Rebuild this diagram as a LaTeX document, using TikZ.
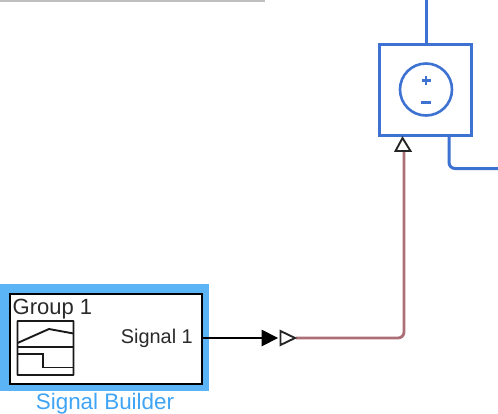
\documentclass[tikz,border=0pt]{standalone}
\usepackage{fontspec}
\setmainfont{Liberation Sans}
\definecolor{simblue}{HTML}{3D72D2}
\definecolor{hilite}{HTML}{5AB4F5}
\definecolor{sellabel}{HTML}{3FA4F4}
\definecolor{wine}{HTML}{AD6F76}
\definecolor{txt}{HTML}{2A2A2A}
\tikzset{
  bluewire/.style={draw=simblue,line width=3pt,rounded corners=6pt},
  blackwire/.style={draw=black,line width=1.6pt},
  winewire/.style={draw=wine,line width=2.8pt,rounded corners=6pt},
  lab/.style={text=txt,inner sep=0pt},
  iconline/.style={draw=black!90,line width=1.9pt},
  porttri/.style={draw=black!85,line width=1.9pt,fill=white,line join=miter},
}
\begin{document}
\begin{tikzpicture}[x=1pt,y=-1pt]
\useasboundingbox (0,0) rectangle (498,413);
\fill[black!25] (0,0) rectangle (265,2);
% Signal Builder block
\node[fill=hilite,minimum width=209pt,minimum height=107pt,inner sep=0pt,outer sep=0pt,anchor=north west] (sel) at (0,284) {};
\node[draw=black,line width=2.6pt,fill=white,minimum width=192pt,minimum height=90pt,inner sep=0pt,outer sep=0pt,anchor=north west] (sb) at (10,294) {};
\node[lab,font=\fontsize{22}{24}\selectfont,anchor=base west] (grp) at (12.5,314) {Group 1};
\node[lab,font=\fontsize{19.9}{24}\selectfont,anchor=base east] (sig) at (193,343) {Signal 1};
\node[font=\fontsize{22.4}{26}\selectfont,text=sellabel,inner sep=0pt,anchor=base] (name) at (105,409) {Signal Builder};
\node[draw=black!90,line width=1.9pt,minimum width=56pt,minimum height=54pt,inner sep=0pt,outer sep=0pt,anchor=north west,rounded corners=0.5pt] (ico) at (17.5,321) {};
\draw[iconline] (17.5,347) -- (73.5,347);
\draw[iconline] (17.5,343) -- (49,329) -- (73.5,333.5);
\draw[iconline] (17.5,354) -- (43,354) -- (43,367.5) -- (73.5,367.5);
% Voltage source block
\node[draw=simblue,line width=3pt,fill=white,minimum width=92pt,minimum height=91pt,inner sep=0pt,outer sep=0pt,anchor=north west] (vs) at (379,44.5) {};
\node[draw=simblue,line width=2.6pt,circle,minimum size=52pt,inner sep=0pt,outer sep=0pt] (circ) at (426,89.5) {};
\draw[simblue,line width=2.6pt] (421.5,80.5) -- (430.5,80.5) (426,76) -- (426,85);
\draw[simblue,line width=2.6pt] (421,102.5) -- (431,102.5);
% Wires
\coordinate (topend) at (426,0);
\coordinate (rightend) at (498,168.5);
\coordinate (vsout) at (449,135);
\draw[bluewire] (topend) -- (vs.north -| topend);
\draw[bluewire] (vsout) -- (449,168.5) -- (rightend);
% Arrowheads
\coordinate (blackbase) at (263,338);
\coordinate (blacktip) at (278,338);
\draw[blackwire] (sb.east |- blacktip) -- (blackbase);
\fill[black] (261.5,329.5) -- (278,338) -- (261.5,346.5) -- cycle;
\coordinate (opentip) at (296,338);
\coordinate (corner) at (404,338);
\draw[winewire] (opentip) -- (corner) -- (404,152);
\draw[porttri] (280.5,331) -- (295,338) -- (280.5,345) -- cycle;
\draw[porttri] (395.5,151) -- (402.5,138) -- (410.5,151) -- cycle;
\end{tikzpicture}
\end{document}
